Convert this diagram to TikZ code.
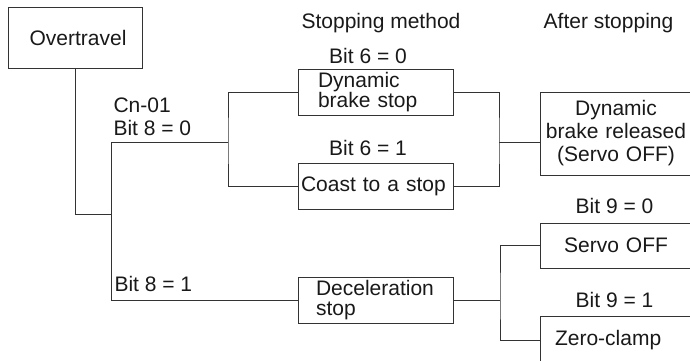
\documentclass[tikz,border=0pt]{standalone}
\usepackage{fontspec}
\setmainfont{Liberation Sans}
\usetikzlibrary{calc}

\tikzset{
  box/.style={draw, inner ysep=0pt, minimum height=46pt},
  lbl/.style={inner sep=0pt},
}

\begin{document}
\begin{tikzpicture}[x=1pt, y=-1pt, line width=1pt, draw=black!80, text=black!90,
    font=\fontsize{21}{20.5}\selectfont]
    \clip (0,0) rectangle (690,360);
    % boxes
    \node[box, text width=134pt, inner xsep=0pt, align=center, minimum height=61pt] (ot) at (75,37.5) {\hspace*{6pt}Overtravel};
    \node[box, text width=119pt, inner xsep=18pt, align=left] (dbs) at (375.5,92) {\hspace*{2pt}Dynamic\\\hspace*{2pt}brake stop};
    \node[box, text width=149pt, inner xsep=3pt, align=left] (cst) at (375.5,186) {Coast to a stop};
    \node[box, text width=119pt, inner xsep=18pt, align=left] (dec) at (375.5,300) {Deceleration\\stop};
    \node[box, text width=150pt, inner xsep=1pt, align=center, minimum height=83pt,
        font=\fontsize{21}{23}\selectfont] (rel) at (616,133.5) {Dynamic\\brake released\\(Servo OFF)};
    \node[box, text width=140pt, inner xsep=6pt, align=center, minimum height=45pt] (soff) at (616,245.5) {Servo OFF};
    \node[box, text width=122pt, inner xsep=15pt, align=left, minimum height=48pt] (zc) at (616,340) {Zero-clamp};
    % labels
    \node[lbl, anchor=base] (lstop) at (381,28) {Stopping method};
    \node[lbl, anchor=base] (lafter) at (608.5,28) {After stopping};
    \node[lbl, anchor=base] (lsixa) at (368,63) {Bit 6 = 0};
    \node[lbl, anchor=base] (lsixb) at (368,155) {Bit 6 = 1};
    \node[lbl, anchor=base west] (lcn) at (113,112) {Cn-01};
    \node[lbl, anchor=base west] (leighta) at (113,135) {Bit 8 = 0};
    \node[lbl, anchor=base west] (leightb) at (114,291) {Bit 8 = 1};
    \node[lbl, anchor=base] (lninea) at (614.5,213) {Bit 9 = 0};
    \node[lbl, anchor=base] (lnineb) at (614.5,307) {Bit 9 = 1};
    % junctions
    \coordinate (s1) at (111,214);
    \coordinate (s2) at (111,142);
    \coordinate (s3) at (228,142);
    \coordinate (t1) at (499,142);
    \coordinate (u1) at (500,299);
    % connectors
    \draw (ot.south) |- (s1);
    \draw (s3) -- (s2) -- (dec.west -| s2) -- (dec.west);
    \draw (dbs.west) -| (s3) |- (cst.west);
    \draw (dbs.east) -| (t1) |- (cst.east);
    \draw (t1) -- (t1 -| rel.west);
    \draw (dec.east) -- (dec.east -| u1);
    \draw (soff.west) -| (u1) |- (zc.west);
\end{tikzpicture}
\end{document}
